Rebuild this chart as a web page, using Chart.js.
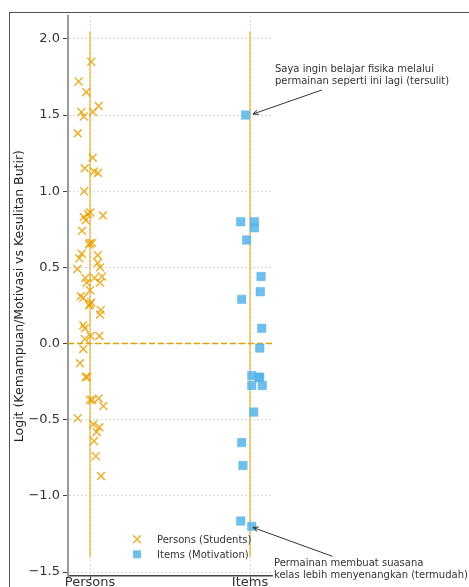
<!DOCTYPE html>
<html>
<head>
<meta charset="utf-8">
<script src="https://cdn.jsdelivr.net/npm/chart.js@4.4.0/dist/chart.umd.min.js"></script>
<style>
  html, body { margin: 0; padding: 0; background: #fff; }
  #wrap { position: relative; width: 469px; height: 587px; overflow: hidden; }
  #frame { position: absolute; left: 9px; top: 12px; width: 600px; height: 700px; border: 1.5px solid #555; box-sizing: border-box; }
  canvas { position: absolute; left: 0; top: 0; }
</style>
</head>
<body>
<div id="wrap">
  <div id="frame"></div>
  <canvas id="chart" width="469" height="587"></canvas>
</div>
<script>
const categories = ["Persons", "Items"];
const yTicks = [-1.5, -1.0, -0.5, 0.0, 0.5, 1.0, 1.5, 2.0];

// person abilities (logit) and horizontal jitter
const personLogits = [1.85, 1.72, 1.65, 1.52, 1.49, 1.52, 1.56, 1.38, 1.22, 1.15, 1.13, 1.12, 1.00,
    0.86, 0.84, 0.83, 0.81, 0.85, 0.74, 0.66, 0.66, 0.65, 0.59, 0.56, 0.58, 0.53, 0.50, 0.49,
    0.43, 0.43, 0.44, 0.40, 0.40, 0.35, 0.31, 0.30, 0.27, 0.26, 0.25, 0.22, 0.19, 0.12, 0.10,
    0.03, 0.05, 0.05, -0.035, -0.13, -0.22, -0.22, -0.37, -0.37, -0.36, -0.41, -0.49, -0.53,
    -0.55, -0.58, -0.64, -0.74, -0.87];
const personJitter = [0.008, -0.071, -0.023, -0.054, -0.039, 0.019, 0.054, -0.077, 0.017, -0.033, 0.025, 0.05, -0.036,
    0.002, 0.081, -0.039, -0.027, -0.013, -0.05, 0, 0.014, -0.006, -0.052, -0.067, 0.048, 0.048, 0.063, -0.079,
    -0.029, 0.027, 0.075, -0.021, 0.063, 0, -0.058, -0.042, 0.008, 0, -0.006, 0.067, 0.063, -0.042, -0.033,
    -0.033, 0.004, 0.058, -0.042, -0.063, -0.017, -0.028, 0, 0.014, 0.054, 0.083, -0.077, 0.021,
    0.058, 0.042, 0.025, 0.036, 0.069];

// item difficulties (logit) and horizontal jitter
const itemLogits = [1.50, 0.80, 0.80, 0.76, 0.68, 0.44, 0.34, 0.29, 0.10, -0.03, -0.21, -0.22, -0.225,
    -0.275, -0.275, -0.45, -0.65, -0.80, -1.165, -1.20];
const itemJitter = [-0.028, -0.058, 0.027, 0.027, -0.021, 0.069, 0.064, -0.052, 0.073, 0.061, 0.011, 0.056, 0.061,
    0.011, 0.077, 0.023, -0.052, -0.044, -0.058, 0.011];

// vertical range lines drawn at each category
const rangeLow = [-1.4, -1.4];
const rangeHigh = [2.05, 2.05];

const hardestLabel = ["Saya ingin belajar fisika melalui", "permainan seperti ini lagi (tersulit)"];
const easiestLabel = ["Permainan membuat suasana", "kelas lebih menyenangkan (termudah)"];

const ORANGE = "rgba(230, 159, 0, 0.8)";
const BLUE = "rgba(86, 180, 233, 0.85)";

const notes = [
    { lines: hardestLabel, textX: 1.156, textY: 1.835, target: { x: 1, y: Math.max(...itemLogits) } },
    { lines: easiestLabel, textX: 1.15, textY: -1.41, target: { x: 1, y: Math.min(...itemLogits) } }
];

function drawArrow(ctx, x1, y1, x2, y2) {
    const ang = Math.atan2(y2 - y1, x2 - x1);
    ctx.beginPath();
    ctx.moveTo(x1, y1);
    ctx.lineTo(x2, y2);
    ctx.stroke();
    ctx.beginPath();
    ctx.moveTo(x2 - 6 * Math.cos(ang - 0.4), y2 - 6 * Math.sin(ang - 0.4));
    ctx.lineTo(x2, y2);
    ctx.lineTo(x2 - 6 * Math.cos(ang + 0.4), y2 - 6 * Math.sin(ang + 0.4));
    ctx.stroke();
}

const overlay = {
    id: "overlay",
    afterDraw(chart) {
        const { ctx, scales: { x, y } } = chart;
        ctx.save();
        // annotations with arrows
        ctx.font = '10px "DejaVu Sans"';
        ctx.textBaseline = "top";
        ctx.fillStyle = "#333";
        ctx.strokeStyle = "#333";
        ctx.lineWidth = 1;
        const lh = 12;
        notes.forEach(n => {
            const left = x.getPixelForValue(n.textX);
            const top = y.getPixelForValue(n.textY);
            const w = Math.max(...n.lines.map(l => ctx.measureText(l).width));
            const h = lh * n.lines.length;
            n.lines.forEach((l, i) => ctx.fillText(l, left, top + i * lh));
            const cx = left + w / 2, cy = top + h / 2;
            const tx = x.getPixelForValue(n.target.x), ty = y.getPixelForValue(n.target.y);
            const dx = tx - cx, dy = ty - cy;
            // leave the text box
            const t = Math.min((w / 2 + 2) / Math.abs(dx), (h / 2 + 2) / Math.abs(dy));
            const len = Math.hypot(dx, dy);
            const sx = cx + dx * t, sy = cy + dy * t;
            const ex = tx - dx / len * 3, ey = ty - dy / len * 3;
            drawArrow(ctx, sx, sy, ex, ey);
        });
        // legend
        const lx = x.getPixelForValue(0.294);
        const rows = [
            { y: y.getPixelForValue(-1.284), text: "Persons (Students)", style: "cross", color: ORANGE },
            { y: y.getPixelForValue(-1.383), text: "Items (Motivation)", style: "rect", color: BLUE }
        ];
        ctx.font = '10px "DejaVu Sans"';
        ctx.textBaseline = "middle";
        rows.forEach(r => {
            ctx.fillStyle = r.color;
            ctx.strokeStyle = r.color;
            if (r.style === "rect") {
                ctx.fillRect(lx - 4, r.y - 4, 8, 8);
            } else {
                ctx.lineWidth = 1.5;
                ctx.beginPath();
                ctx.moveTo(lx - 4, r.y - 4); ctx.lineTo(lx + 4, r.y + 4);
                ctx.moveTo(lx - 4, r.y + 4); ctx.lineTo(lx + 4, r.y - 4);
                ctx.stroke();
            }
            ctx.fillStyle = "#333";
            ctx.fillText(r.text, lx + 20, r.y + 1);
        });
        ctx.restore();
    }
};

const rangeSets = categories.map((c, i) => ({
    type: "line",
    data: [{ x: i, y: rangeLow[i] }, { x: i, y: rangeHigh[i] }],
    borderColor: "rgba(230, 159, 0, 0.65)",
    borderWidth: 1.5,
    pointRadius: 0,
    order: 5
}));

new Chart(document.getElementById("chart"), {
    type: "scatter",
    data: {
        datasets: [
            {
                label: "Persons (Students)",
                data: personLogits.map((v, i) => ({ x: 0 + personJitter[i], y: v })),
                pointStyle: "crossRot",
                pointRadius: 5.6,
                pointBorderWidth: 1.5,
                borderColor: ORANGE,
                backgroundColor: ORANGE,
                order: 1
            },
            {
                label: "Items (Motivation)",
                data: itemLogits.map((v, i) => ({ x: 1 + itemJitter[i], y: v })),
                pointStyle: "rect",
                pointRadius: 6,
                pointBorderWidth: 1,
                borderColor: "rgba(86, 180, 233, 0.45)",
                backgroundColor: BLUE,
                order: 0
            },
            ...rangeSets,
            {
                type: "line",
                data: [{ x: -0.1375, y: 0 }, { x: 1.1375, y: 0 }],
                borderColor: "rgba(230, 159, 0, 1)",
                borderWidth: 1.5,
                borderDash: [6, 3],
                pointRadius: 0,
                order: 4
            }
        ]
    },
    options: {
        responsive: false,
        animation: false,
        layout: { padding: { top: 16, right: 197, left: 9, bottom: 0 } },
        plugins: { legend: { display: false }, tooltip: { enabled: false } },
        scales: {
            x: {
                type: "linear",
                min: -0.1375,
                max: 1.1375,
                afterBuildTicks: s => { s.ticks = categories.map((c, i) => ({ value: i })); },
                afterFit: s => { s.height = 10; },
                ticks: {
                    callback: v => categories[v],
                    color: "#333",
                    font: { family: "DejaVu Sans", size: 13 },
                    padding: -4,
                    maxRotation: 0
                },
                grid: { color: "#d0d0d0", lineWidth: 0.8, tickLength: 3, tickColor: "#444", tickWidth: 1, tickBorderDash: [] },
                border: { color: "#444", width: 1.5, dash: [2, 2] }
            },
            y: {
                min: -1.527,
                max: 2.15,
                afterBuildTicks: s => { s.ticks = yTicks.map(v => ({ value: v })); },
                afterFit: s => { s.width = 59; },
                ticks: {
                    callback: v => v.toFixed(1).replace("-", "\u2212"),
                    color: "#333",
                    font: { family: "DejaVu Sans", size: 13 },
                    padding: 3
                },
                title: {
                    display: true,
                    text: "Logit (Kemampuan/Motivasi vs Kesulitan Butir)",
                    color: "#222",
                    font: { family: "DejaVu Sans", size: 12.5 },
                    padding: { top: 3, bottom: 0 }
                },
                grid: { color: "#d0d0d0", lineWidth: 0.8, tickLength: 5, tickColor: "#444", tickWidth: 1, tickBorderDash: [] },
                border: { color: "#999", width: 2, dash: [2, 2] }
            }
        }
    },
    plugins: [overlay]
});
</script>
</body>
</html>
